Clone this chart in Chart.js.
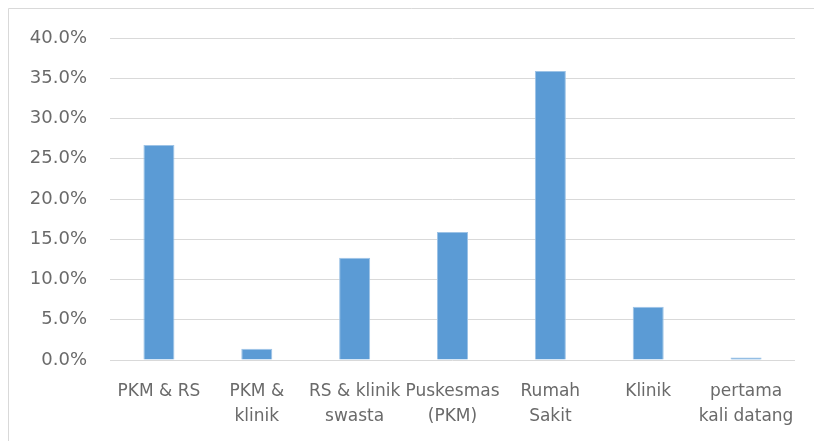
<!DOCTYPE html>
<html>
<head>
<meta charset="utf-8">
<script src="https://cdn.jsdelivr.net/npm/chart.js@4.4.1/dist/chart.umd.min.js"></script>
<style>
  html, body { margin: 0; padding: 0; background: #ffffff; }
  #wrap { position: absolute; left: 0; top: 0; width: 814px; height: 441px; }
</style>
</head>
<body>
<div id="wrap"><canvas id="c" width="814" height="441"></canvas></div>
<script>
// Categories (multi-line labels) and their shares, in percent
const categories = [
  ["PKM & RS"],
  ["PKM &", "klinik"],
  ["RS & klinik", "swasta"],
  ["Puskesmas", "(PKM)"],
  ["Rumah", "Sakit"],
  ["Klinik"],
  ["pertama", "kali datang"]
];
const shares = [26.7, 1.4, 12.7, 15.9, 35.9, 6.6, 0.3];
const yTicks = [0, 5, 10, 15, 20, 25, 30, 35, 40];

const fontFamily = "'DejaVu Sans', 'Open Sans', sans-serif";
const textColor = "#6a6a6a";
const gridColor = "#d9d9d9";

// Thin frame along the top and left edges of the chart
const framePlugin = {
  id: 'frame',
  beforeDraw(chart) {
    const ctx = chart.ctx;
    ctx.save();
    ctx.fillStyle = '#ffffff';
    ctx.fillRect(0, 0, chart.width, chart.height);
    ctx.strokeStyle = gridColor;
    ctx.lineWidth = 1;
    ctx.beginPath();
    ctx.moveTo(8.5, chart.height);
    ctx.lineTo(8.5, 8.5);
    ctx.lineTo(chart.width, 8.5);
    ctx.stroke();
    ctx.restore();
  }
};

new Chart(document.getElementById('c'), {
  type: 'bar',
  data: {
    labels: categories,
    datasets: [{
      data: shares,
      backgroundColor: '#5b9bd5',
      borderColor: '#9dc3e6',
      borderWidth: { left: 1, right: 1, top: 1, bottom: 0 },
      categoryPercentage: 1.0,
      barPercentage: 0.317
    }]
  },
  plugins: [framePlugin],
  options: {
    responsive: false,
    animation: false,
    devicePixelRatio: 1,
    layout: { padding: { left: 10, right: 19, top: 38, bottom: 0 } },
    plugins: {
      legend: { display: false },
      tooltip: { enabled: false }
    },
    scales: {
      x: {
        grid: { display: false, drawTicks: false },
        border: { display: false },
        ticks: {
          color: textColor,
          font: { family: fontFamily, size: 17, lineHeight: 1.48 },
          padding: 19,
          maxRotation: 0,
          autoSkip: false
        },
        afterFit(scale) { scale.height = 81; }
      },
      y: {
        min: 0,
        max: 40,
        afterBuildTicks(scale) {
          scale.ticks = yTicks.map(v => ({ value: v }));
        },
        grid: { color: gridColor, lineWidth: 1, drawTicks: false },
        border: { display: false },
        ticks: {
          color: textColor,
          font: { family: fontFamily, size: 18 },
          padding: 23,
          callback: v => Number(v).toFixed(1) + '%'
        },
        afterFit(scale) { scale.width = 100; }
      }
    }
  }
});
</script>
</body>
</html>
